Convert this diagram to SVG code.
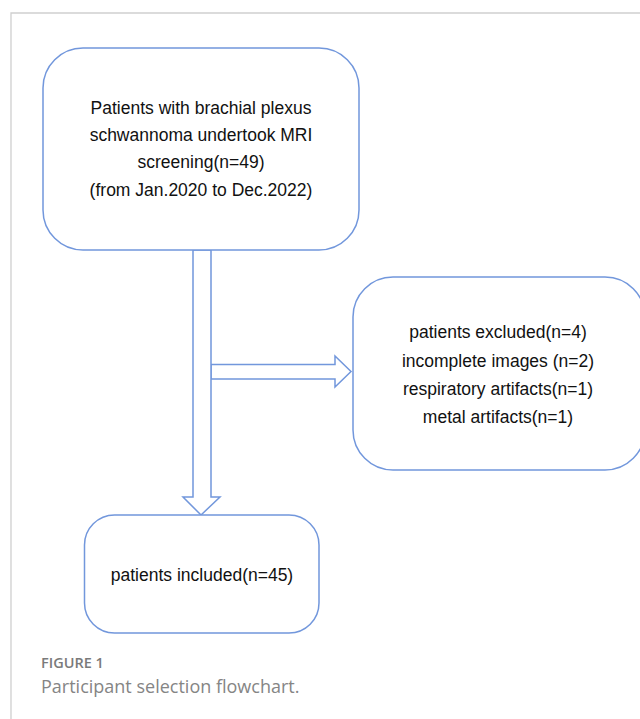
<svg xmlns="http://www.w3.org/2000/svg" width="640" height="719" viewBox="0 0 640 719">
<style>
.frame{stroke:#cfcfcf;stroke-width:1.3;fill:none}
.box{fill:#ffffff;stroke:#7297dc;stroke-width:1.5}
.arrow{fill:#ffffff;stroke:#7297dc;stroke-width:1.5;stroke-linejoin:miter}
.t{font-family:"Liberation Sans",Arial,sans-serif;font-size:17.5px;fill:#111111;text-anchor:middle}
.fig{font-family:"Open Sans","Liberation Sans",sans-serif;font-size:14.5px;font-weight:600;fill:#7a7a7a}
.cap{font-family:"Open Sans","Liberation Sans",sans-serif;font-size:18px;fill:#858585}
</style>
<rect width="640" height="719" fill="#ffffff"/>
<path class="frame" d="M11,719 V13 H640"/>
<g id="connectors">
<polygon class="arrow" points="211,364.5 335,364.5 335,356 351,371.5 335,387 335,379 211,379"/>
<polygon class="arrow" points="193,250 211,250 211,497 220,497 201,515 183,497 193,497"/>
</g>
<g id="node-screening">
<rect class="box" x="43" y="48" width="316" height="202" rx="40" ry="40"/>
<text class="t" x="201" y="114">Patients with brachial plexus</text>
<text class="t" x="201" y="141">schwannoma undertook MRI</text>
<text class="t" x="201" y="168">screening(n=49)</text>
<text class="t" x="201" y="196">(from Jan.2020 to Dec.2022)</text>
</g>
<g id="node-excluded">
<rect class="box" x="353" y="277" width="292" height="193" rx="40" ry="40"/>
<text class="t" x="498" y="338">patients excluded(n=4)</text>
<text class="t" x="498" y="366.5">incomplete images (n=2)</text>
<text class="t" x="498" y="395">respiratory artifacts(n=1)</text>
<text class="t" x="498" y="423">metal artifacts(n=1)</text>
</g>
<g id="node-included">
<rect class="box" x="84.5" y="515" width="234.5" height="118" rx="30" ry="30"/>
<text class="t" x="202" y="581">patients included(n=45)</text>
</g>
<text class="fig" x="41" y="668">FIGURE 1</text>
<text class="cap" x="41" y="693">Participant selection flowchart.</text>
</svg>
